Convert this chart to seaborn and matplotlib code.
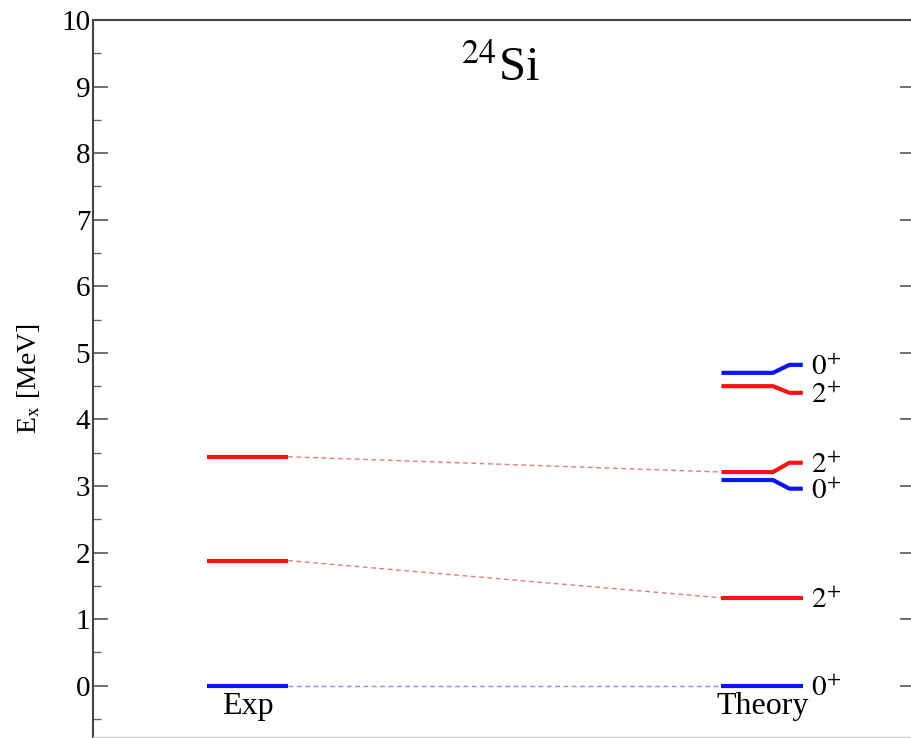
import matplotlib
matplotlib.use("Agg")
import matplotlib.pyplot as plt
import pandas as pd
import seaborn as sns

# Level energies (MeV) for 24Si
exp_energy = [0.0, 1.88, 3.44]
exp_spin = ["0+", "2+", "2+"]

theory_energy = [0.0, 1.32, 3.09, 3.21, 4.50, 4.70]
theory_spin = ["0+", "2+", "0+", "2+", "2+", "0+"]
# where each theory label sits (levels spread apart for readability)
theory_label_at = [0.0, 1.32, 2.96, 3.35, 4.40, 4.82]

# experimental level -> theory level it is paired with
pairs = [(0, 0), (1, 1), (2, 3)]

column_names = ["Exp", "Theory"]

sns.set_theme(style="ticks")
plt.rcParams["font.family"] = ["Liberation Serif", "DejaVu Serif"]
plt.rcParams["mathtext.fontset"] = "stix"

spin_color = {"0+": "#0a14f5", "2+": "#f51414"}
link_color = {"0+": "#8c8cf5", "2+": "#d98080"}

half = 0.079          # half width of a level bar (column units)
kink0, kink1 = 1.021, 1.053

rows = []
for i, (e, s) in enumerate(zip(exp_energy, exp_spin)):
    for x in (0 - half, 0 + half):
        rows.append(dict(x=x, E=e, spin=s, seg=f"exp{i}"))
for i, (e, s, lab) in enumerate(zip(theory_energy, theory_spin, theory_label_at)):
    for x, y in ((1 - half, e), (kink0, e), (kink1, lab), (1 + half, lab)):
        rows.append(dict(x=x, E=y, spin=s, seg=f"th{i}"))
levels = pd.DataFrame(rows)

links = []
for k, (i, j) in enumerate(pairs):
    links.append(dict(x=0 + half, E=exp_energy[i], spin=exp_spin[i], seg=f"l{k}"))
    links.append(dict(x=1 - half, E=theory_energy[j], spin=exp_spin[i], seg=f"l{k}"))
links = pd.DataFrame(links)

fig = plt.figure(figsize=(9.11, 7.38), dpi=100)
ax = fig.add_axes([93 / 911, 1 / 738, (915 - 93) / 911, (737 - 20) / 738])

sns.lineplot(data=links, x="x", y="E", units="seg", estimator=None, sort=False,
             hue="spin", palette=link_color, legend=False, ax=ax,
             lw=1.0, linestyle=(0, (3.5, 2.5)))
sns.lineplot(data=levels, x="x", y="E", units="seg", estimator=None, sort=False,
             hue="spin", palette=spin_color, legend=False, ax=ax,
             lw=3.0, solid_capstyle="butt", solid_joinstyle="round")

# spin labels next to theory levels
for s, lab in zip(theory_spin, theory_label_at):
    ax.text(1 + half + 0.016, lab, f"${s[0]}^{{{s[1]}}}$", fontsize=21,
            va="center_baseline", ha="left", color="black")

# column names under the ground state
for xpos, name in enumerate(column_names):
    ax.text(xpos, -0.10, name, fontsize=23, ha="center", va="top", color="black")

ax.text(0.496, 0.915, r"$^{24}$Si", transform=ax.transAxes, fontsize=35,
        ha="center", va="baseline", color="black")

ax.set_xlim(-0.300, 1.297)
ax.set_ylim(-0.77, 10)
ax.set_xticks([])
ax.set_yticks(range(0, 11))
ax.set_yticks([v + 0.5 for v in range(-1, 10)], minor=True)
ax.tick_params(axis="y", which="major", direction="in", length=11, width=1.2,
               color="#555555", labelsize=21, pad=2, right=True, labelcolor="black")
ax.tick_params(axis="y", which="minor", direction="in", length=5.5, width=1.0,
               color="#666666", left=True, right=False)
ax.set_xlabel("")
ax.set_ylabel(r"E$_\mathrm{x}$ [MeV]", fontsize=20, color="black")
ax.yaxis.set_label_coords(-(93 - 42) / 822, 0.5)

for side in ("left", "top", "right"):
    ax.spines[side].set_color("#444444")
    ax.spines[side].set_linewidth(1.5)
ax.spines["bottom"].set_color("#cccccc")
ax.spines["bottom"].set_linewidth(1.0)

fig.savefig("out.png", dpi=100, facecolor="white")
